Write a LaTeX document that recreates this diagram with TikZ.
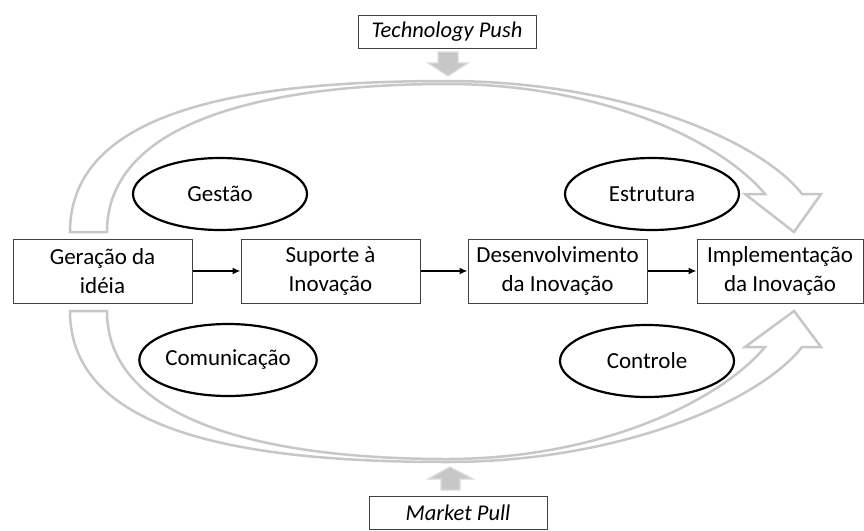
\documentclass[tikz,border=0pt]{standalone}
\usepackage{fontspec}
\setmainfont{Carlito}
\usetikzlibrary{arrows.meta,shapes.geometric}
\tikzset{
  etapa/.style={draw=black!75,line width=1pt,fill=white,minimum width=179pt,minimum height=64pt,align=center,inner sep=2pt},
  fator/.style={ellipse,draw,line width=2.2pt,fill=white,minimum width=174pt,minimum height=72pt,inner sep=0pt},
  rotulo/.style={draw=black!75,line width=1pt,fill=white,minimum width=178pt,minimum height=33pt,font=\fontsize{22.5}{26}\selectfont\itshape},
  fluxo/.style={line width=2pt,-{Latex[length=8pt,width=7pt]}},
  arco/.style={draw=black!22,line width=2.5pt,fill=white},
  seta/.style={draw=black!14,fill=black!22,line width=1.2pt}
}
\begin{document}
\begin{tikzpicture}[x=1pt,y=-1pt,font=\fontsize{23}{29.5}\selectfont]
      \useasboundingbox (0,0) rectangle (864,530);
      % curved arrows
      \draw[arco] (70,232) .. controls (70,108) and (250,81) .. (447,81)
        .. controls (620,81) and (760,140) .. (802,194) -- (821,194) -- (794,232)
        -- (745,194) -- (765,194) .. controls (720,140) and (600,84) .. (447,84)
        .. controls (270,84) and (107,120) .. (107,232) -- cycle;
      \draw[arco] (70,311) .. controls (70,435) and (250,462) .. (447,462)
        .. controls (620,462) and (760,401) .. (802,347) -- (821,347) -- (794,311)
        -- (745,347) -- (765,347) .. controls (720,401) and (600,459) .. (447,459)
        .. controls (270,459) and (107,423) .. (107,311) -- cycle;
      % labels
      \node[rotulo] (tp) at (447,31.5) {Technology Push};
      \node[rotulo] (mp) at (458,512.5) {Market Pull};
      \draw[seta] (438,52) -- (458,52) -- (458,63) -- (468,63) -- (448,76) -- (428,63) -- (438,63) -- cycle;
      \draw[seta] (441,490) -- (460,490) -- (460,479) -- (473,479) -- (450,467) -- (428,479) -- (441,479) -- cycle;
      % stages
      \node[etapa] (g) at (102.5,271) {Geração da\\idéia};
      \node[etapa] (s) at (330.5,271) {Suporte à\\Inovação};
      \node[etapa] (d) at (557.5,271) {Desenvolvimento\\da Inovação};
      \node[etapa,minimum width=166pt] (i) at (780,271) {Implementação\\da Inovação};
      \draw[fluxo] (g) -- (s);
      \draw[fluxo] (s) -- (d);
      \draw[fluxo] (d) -- (i);
      % factors
      \node[fator] (ge) at (220,194) {Gestão};
      \node[fator] (es) at (652,194) {Estrutura};
      \node[fator] (co) at (228,360) {Comunicação};
      \node[fator] (ct) at (647,361) {Controle};
    \end{tikzpicture}
\end{document}
